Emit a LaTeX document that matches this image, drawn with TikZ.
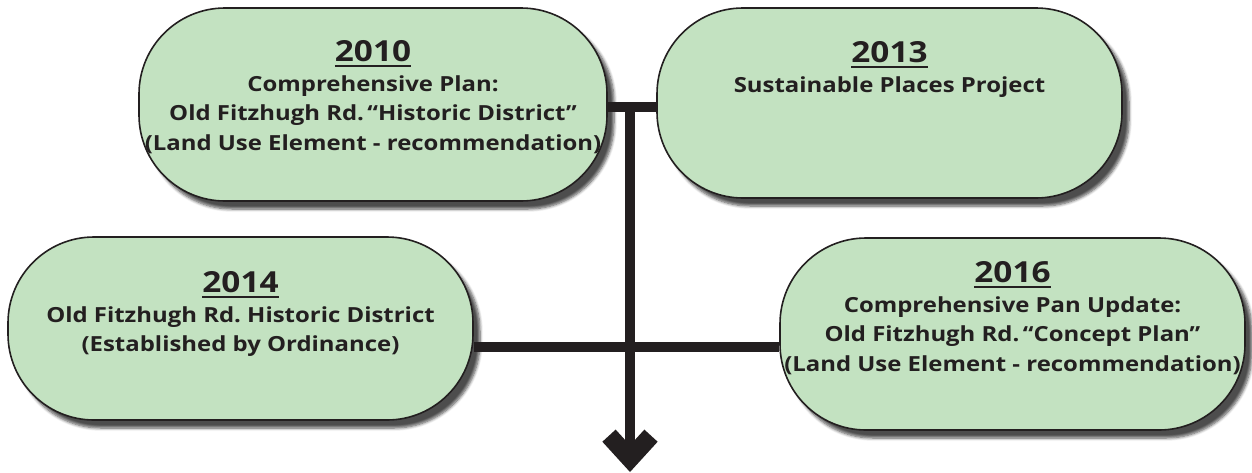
\documentclass[tikz,border=0pt]{standalone}
\usepackage{fontspec}
\setmainfont{Open Sans}[FakeStretch=1.15]
\frenchspacing
\usetikzlibrary{arrows.meta}
\usetikzlibrary{shadows.blur}
\definecolor{boxgreen}{RGB}{195,226,193}
\definecolor{inkblack}{RGB}{35,31,32}
\newcommand{\yearmark}[1]{{\fontsize{29}{29.5}\selectfont\setbox0\hbox{#1}\rlap{\rule[-5pt]{\wd0}{1.8pt}}\box0}}
\tikzset{
  yearbox/.style={draw=inkblack, line width=1.6pt, fill=boxgreen, rounded corners=86pt, inner sep=0pt,
    blur shadow={shadow xshift=7pt, shadow yshift=-8pt, shadow blur radius=3pt, shadow blur steps=6, shadow opacity=70}},
  yeartext/.style={anchor=north, align=center, inner sep=0pt, text=inkblack, font=\bfseries\fontsize{20.8}{29.5}\selectfont},
  link/.style={draw=inkblack, line width=10pt},
}
\begin{document}
\begin{tikzpicture}[x=1pt,y=-1pt]
\useasboundingbox (0,0) rectangle (1252,472);

\node[yearbox, minimum width=468pt, minimum height=193pt] (b2010) at (373,104.5) {};
\node[yearbox, minimum width=465pt, minimum height=190pt] (b2013) at (889.5,103) {};
\node[yearbox, minimum width=465pt, minimum height=183pt] (b2014) at (240.5,328.5) {};
\node[yearbox, minimum width=465pt, minimum height=192pt] (b2016) at (1012.5,334) {};

\coordinate (top) at (630,107);
\coordinate (mid) at (630,347);
\coordinate (end) at (630,472);

\draw[link] (b2010.east |- top) -- (b2013.west |- top);
\draw[link, -{Straight Barb[length=23pt, width=42pt, line width=18pt 0]}] (top) -- (end);
\draw[link] (b2014.east |- mid) -- (b2016.west |- mid);

\node[yeartext] (t2010) at ([yshift=-33.5pt]b2010.north) {\yearmark{2010}\\Comprehensive Plan:\\Old Fitzhugh Rd.\,“Historic District”\\(Land Use Element - recommendation)};
\node[yeartext] (t2013) at ([yshift=-34.5pt]b2013.north) {\yearmark{2013}\\Sustainable Places Project};
\node[yeartext] (t2014) at ([yshift=-35.5pt]b2014.north) {\yearmark{2014}\\Old Fitzhugh Rd. Historic District\\(Established by Ordinance)};
\node[yeartext] (t2016) at ([yshift=-24.5pt]b2016.north) {\yearmark{2016}\\Comprehensive Pan Update:\\Old Fitzhugh Rd.\,“Concept Plan”\\(Land Use Element - recommendation)};
\end{tikzpicture}
\end{document}
